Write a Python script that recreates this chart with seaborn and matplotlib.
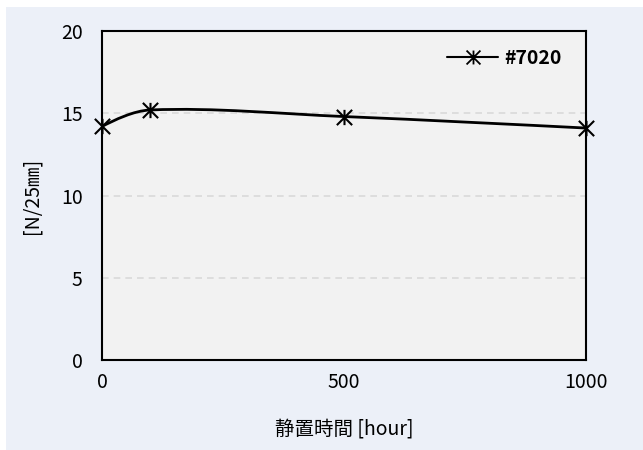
import numpy as np
import pandas as pd
import matplotlib
matplotlib.use("Agg")
import matplotlib.pyplot as plt
import seaborn as sns
from matplotlib.path import Path
from matplotlib.patches import PathPatch, Rectangle
from matplotlib.lines import Line2D

# データ
hours = [0, 100, 500, 1000]
strength = [14.2, 15.2, 14.8, 14.1]
series_name = "#7020"
x_ticks = [0, 500, 1000]
y_ticks = [0, 5, 10, 15, 20]

df = pd.DataFrame({"hour": hours, "value": strength})

sns.set_theme(style="white")
plt.rcParams["font.family"] = ["Noto Sans CJK JP", "DejaVu Sans"]
plt.rcParams["text.color"] = "black"
plt.rcParams["axes.labelcolor"] = "black"
plt.rcParams["xtick.color"] = "black"
plt.rcParams["ytick.color"] = "black"

fig = plt.figure(figsize=(6.43, 4.5), dpi=100)
fig.patch.set_facecolor("white")
# 外枠の背景
fig.patches.append(Rectangle((6 / 643, 0), 1, 1 - 7 / 450, transform=fig.transFigure,
                             facecolor="#ECF0F8", edgecolor="none", zorder=-10))

ax = fig.add_axes([102 / 643, 1 - 360 / 450, 484 / 643, 329 / 450])
ax.set_facecolor("#F2F2F2")
ax.set_xlim(0, 1000)
ax.set_ylim(0, 20)

# アスタリスク型マーカー
star = Path([(-1, -1), (1, 1), (-1, 1), (1, -1), (0, -1), (0, 1)],
            [Path.MOVETO, Path.LINETO, Path.MOVETO, Path.LINETO, Path.MOVETO, Path.LINETO])

# 平滑線 (画面座標で接線を計算)
pts = ax.transData.transform(np.column_stack([df["hour"], df["value"]]).astype(float))
n = len(pts)
tang = []
for i in range(n):
    d = pts[min(i + 1, n - 1)] - pts[max(i - 1, 0)]
    tang.append(d / np.linalg.norm(d))
verts = [pts[0]]
codes = [Path.MOVETO]
for i in range(n - 1):
    p1, p2 = pts[i], pts[i + 1]
    L = np.linalg.norm(p2 - p1) / 3
    c1 = p1 + tang[i] * L
    c2 = p2 - tang[i + 1] * L
    if i == 0:
        c1 = p1 + (c2 - p1) * 0.4
    if i == n - 2:
        c2 = p2 + (c1 - p2) * 0.4
    verts += [c1, c2, p2]
    codes += [Path.CURVE4] * 3
verts = ax.transData.inverted().transform(np.array(verts))
ax.add_patch(PathPatch(Path(verts, codes), facecolor="none", edgecolor="black", lw=2, zorder=3))

sns.lineplot(data=df, x="hour", y="value", ax=ax, marker=star, markersize=11,
             markeredgewidth=1.5, markeredgecolor="black", color="black",
             linestyle="none", zorder=4, clip_on=False)

ax.set_xlim(0, 1000)
ax.set_ylim(0, 20)
ax.set_xticks(x_ticks)
ax.set_yticks(y_ticks)
ax.tick_params(axis="x", direction="in", length=5, width=1.3, color="black",
               labelsize=14, pad=9)
ax.tick_params(axis="y", length=0, labelsize=14, pad=14)
for v in [5, 10, 15]:
    ax.axhline(v, color="#D9D9D9", lw=1.2, ls=(0, (4, 3)), zorder=1)
for s in ax.spines.values():
    s.set_color("black")
    s.set_linewidth(1.5)

ax.set_xlabel("静置時間 [hour]", fontsize=14, labelpad=18)
ax.set_ylabel("[N/25㎜]", fontsize=14, labelpad=13)

handle = Line2D([], [], color="black", lw=1.5, marker=star, markersize=10, markeredgewidth=1.3)
leg = ax.legend([handle], [series_name], loc="upper right", frameon=False,
                prop={"weight": "bold", "size": 14}, handlelength=2.6,
                handletextpad=0.3, bbox_to_anchor=(0.985, 1.0))

fig.savefig("out.png", dpi=100)
